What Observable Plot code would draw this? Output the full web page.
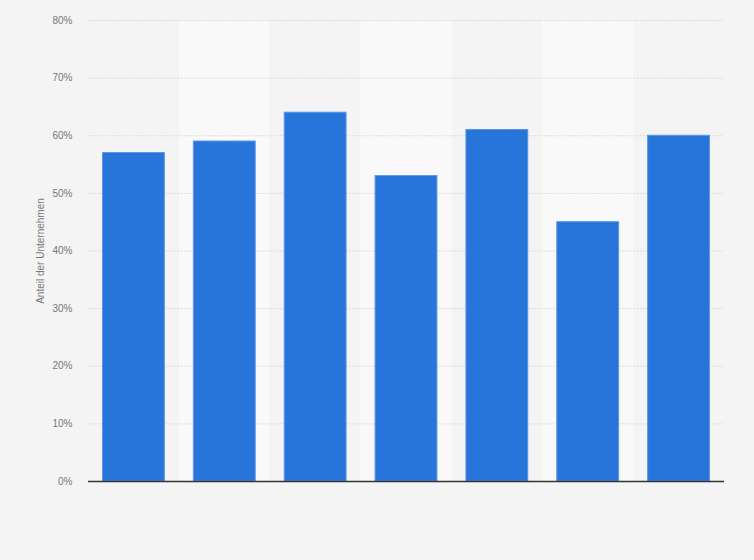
<!DOCTYPE html>
<html>
<head>
<meta charset="utf-8">
<script src="https://cdn.jsdelivr.net/npm/d3@7"></script>
<script src="https://cdn.jsdelivr.net/npm/@observablehq/plot@0.6"></script>
<style>
  html, body { margin: 0; padding: 0; background: #f4f4f4; }
  #chart svg { display: block; }
</style>
</head>
<body>
<div id="chart"></div>
<script>
const categories = ["Kategorie 1", "Kategorie 2", "Kategorie 3", "Kategorie 4", "Kategorie 5", "Kategorie 6", "Kategorie 7"];
const values = [57, 59, 64, 53, 61, 45, 60];
const yTicks = [0, 10, 20, 30, 40, 50, 60, 70, 80];
const yLabel = "Anteil der Unternehmen";

const data = categories.map((c, i) => ({category: c, value: values[i]}));
const bands = categories.filter((c, i) => i % 2 === 1).map(c => ({category: c}));

const chart = Plot.plot({
  width: 754,
  height: 560,
  marginLeft: 88,
  marginRight: 30,
  marginTop: 20,
  marginBottom: 79,
  style: {background: "#f4f4f4", fontFamily: "'Liberation Sans', Arial, sans-serif", fontSize: "10px", color: "#777"},
  x: {domain: categories, padding: 0, round: false, axis: null},
  y: {domain: [0, 80], axis: null},
  marks: [
    Plot.barY(bands, {x: "category", y1: 0, y2: 80, fill: "#f9f9f9"}),
    Plot.ruleY(yTicks.filter(d => d > 0), {stroke: "#d4d4d4", strokeDasharray: "1.5,1.5", strokeWidth: 1}),
    Plot.barY(data, {x: "category", y: "value", fill: "#2775da", stroke: "#5b97e6", strokeWidth: 1, insetLeft: 14.5, insetRight: 14.5}),
    Plot.ruleY([0], {stroke: "#333", strokeWidth: 1.5}),
    Plot.axisY({ticks: yTicks, tickFormat: d => d + "%", tickSize: 0, tickPadding: 16, fill: "#777", fontSize: 10,
      label: yLabel, labelAnchor: "center", labelArrow: "none", labelOffset: 52})
  ]
});
document.getElementById("chart").appendChild(chart);
</script>
</body>
</html>
